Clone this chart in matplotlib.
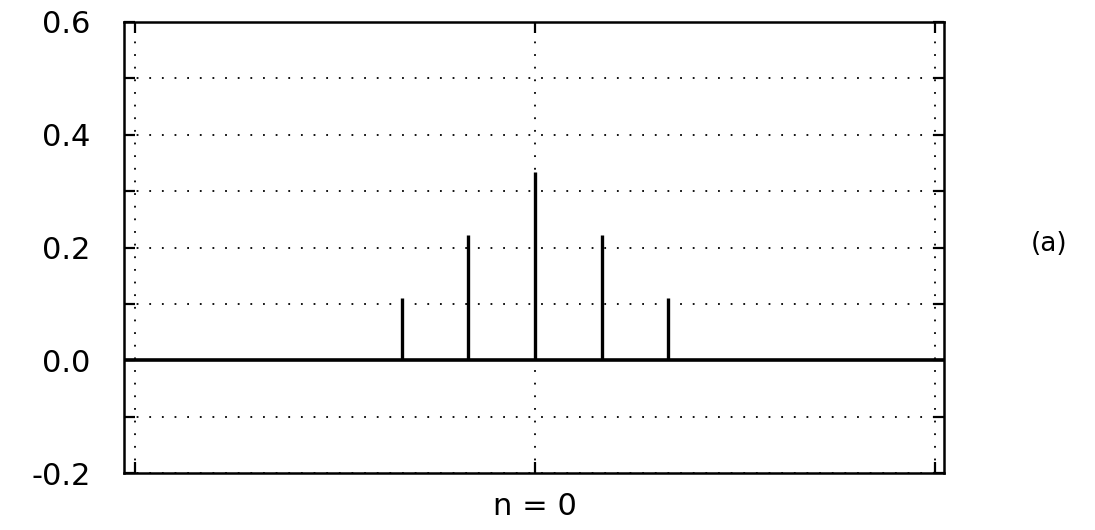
import matplotlib.pyplot as plt
import numpy as np

# samples n = -6 .. 6 (triangular response, peak at n = 0)
n = [-6, -5, -4, -3, -2, -1, 0, 1, 2, 3, 4, 5, 6]
h = [0, 0, 0, 0, 1/9, 2/9, 1/3, 2/9, 1/9, 0, 0, 0, 0]

ytick_vals = [-0.2, -0.1, 0.0, 0.1, 0.2, 0.3, 0.4, 0.5, 0.6]
ytick_labels = ['-0.2', '', '0.0', '', '0.2', '', '0.4', '', '0.6']
xtick_vals = [-6, 0, 6]
xtick_labels = ['', 'n = 0', '']

fig = plt.figure(figsize=(10.95, 5.30), dpi=100)
ax = fig.add_axes([0.1132, 0.1075, 0.7489, 0.851])

ax.axhline(0, color='black', lw=2.6, zorder=3)
ax.vlines(n, 0, h, color='black', lw=2.4, zorder=3)

ax.set_xlim(-6.17, 6.14)
ax.set_ylim(-0.2, 0.6)
ax.set_yticks(ytick_vals)
ax.set_yticklabels(ytick_labels)
ax.set_xticks(xtick_vals)
ax.set_xticklabels(xtick_labels)

ax.grid(True, color='black', linestyle=(0, (1, 6)), lw=1.3)
ax.tick_params(axis='y', direction='in', length=8, width=1.6, left=True, right=True,
               labelsize=22, pad=24)
ax.tick_params(axis='x', direction='in', length=8, width=1.6, top=True, bottom=True,
               labelsize=22, pad=14)
for s in ax.spines.values():
    s.set_linewidth(1.8)

fig.text(0.958, 0.54, '(a)', fontsize=19, ha='center', va='center')

fig.savefig('out.png', dpi=100)
